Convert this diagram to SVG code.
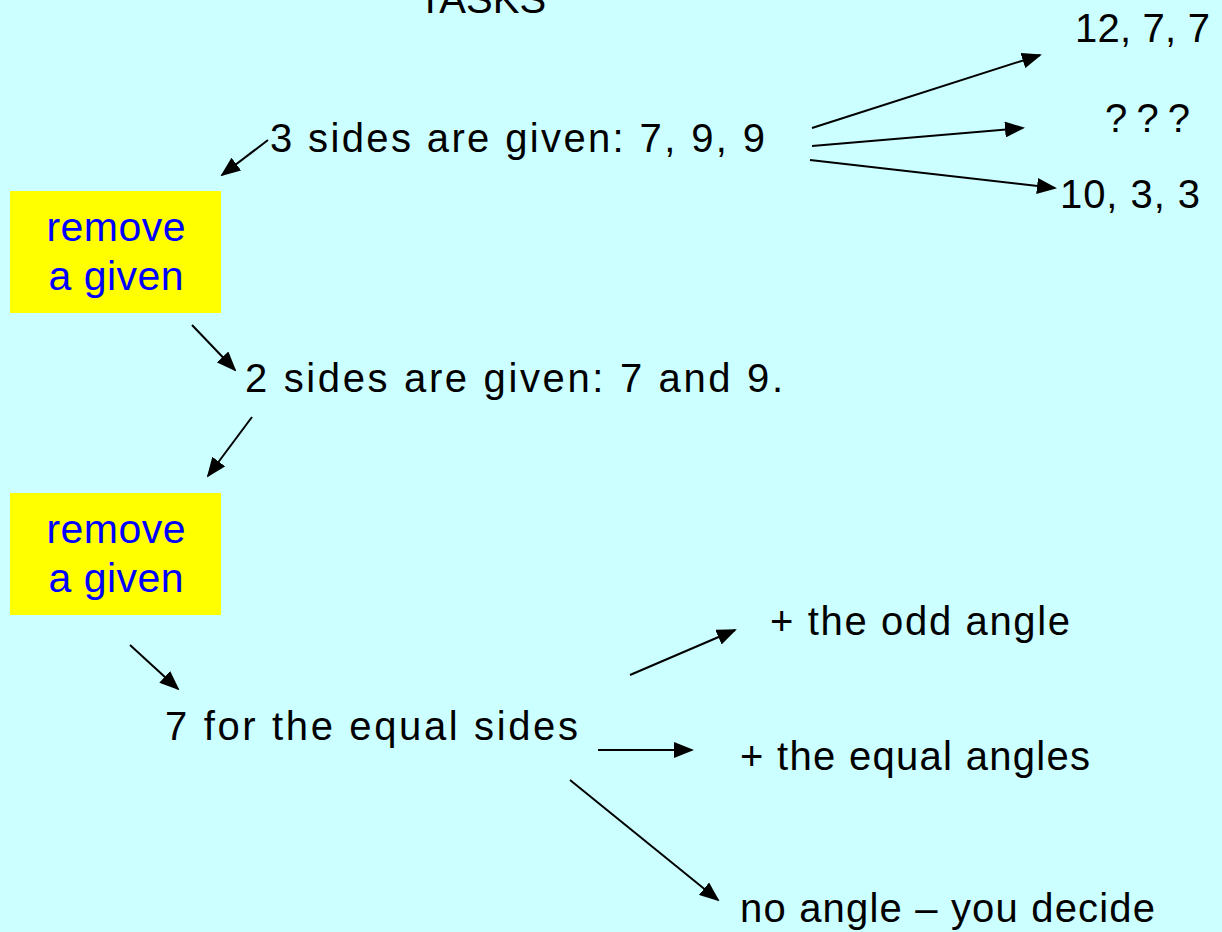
<svg xmlns="http://www.w3.org/2000/svg" width="1222" height="932" viewBox="0 0 1222 932">
<style>
.t{font-family:"Liberation Sans","DejaVu Sans",sans-serif;font-size:40px;fill:#000}
.b{font-family:"Liberation Sans","DejaVu Sans",sans-serif;font-size:41px;fill:#0000FF;text-anchor:middle}
.box{fill:#FFFF00}
.c line{stroke:#000;stroke-width:2;marker-end:url(#ah)}
</style>
<defs>
<marker id="ah" markerWidth="10" markerHeight="8" refX="9" refY="4" orient="auto" markerUnits="strokeWidth">
<path d="M0,0 L10,4 L0,8 Z" fill="#000"/>
</marker>
</defs>
<rect width="1222" height="932" fill="#CCFFFF"/>
<g id="title"><text class="t" x="482" y="13" text-anchor="middle">TASKS</text></g>
<g id="n3sides"><text class="t" x="270" y="152" textLength="495">3 sides are given:  7, 9, 9</text></g>
<g id="r1"><text class="t" x="1075" y="42" textLength="135">12, 7, 7</text></g>
<g id="r2"><text class="t" x="1105" y="132" textLength="85">? ? ?</text></g>
<g id="r3"><text class="t" x="1060" y="208" textLength="140">10, 3, 3</text></g>
<g id="box1"><rect class="box" x="10" y="191" width="211" height="122"/><text class="b" x="116" y="241" textLength="139">remove</text><text class="b" x="116" y="290" textLength="135">a given</text></g>
<g id="n2sides"><text class="t" x="245" y="392" textLength="538">2 sides are given:  7 and 9.</text></g>
<g id="box2"><rect class="box" x="10" y="493" width="211" height="122"/><text class="b" x="116" y="543" textLength="139">remove</text><text class="b" x="116" y="592" textLength="135">a given</text></g>
<g id="odd"><text class="t" x="770" y="635" textLength="300">+ the odd angle</text></g>
<g id="equal7"><text class="t" x="165" y="740" textLength="413">7 for the equal sides</text></g>
<g id="eqang"><text class="t" x="740" y="770" textLength="350">+ the equal angles</text></g>
<g id="noang"><text class="t" x="740" y="922" textLength="415">no angle – you decide</text></g>
<g class="c" id="connectors">
<line x1="268" y1="140" x2="222" y2="175"/>
<line x1="812" y1="128" x2="1040" y2="55"/>
<line x1="812" y1="146" x2="1023" y2="128"/>
<line x1="810" y1="160" x2="1055" y2="188"/>
<line x1="192" y1="325" x2="235" y2="370"/>
<line x1="252" y1="417" x2="208" y2="476"/>
<line x1="130" y1="645" x2="178" y2="689"/>
<line x1="630" y1="675" x2="735" y2="630"/>
<line x1="598" y1="750" x2="692" y2="750"/>
<line x1="570" y1="780" x2="718" y2="900"/>
</g>
</svg>
